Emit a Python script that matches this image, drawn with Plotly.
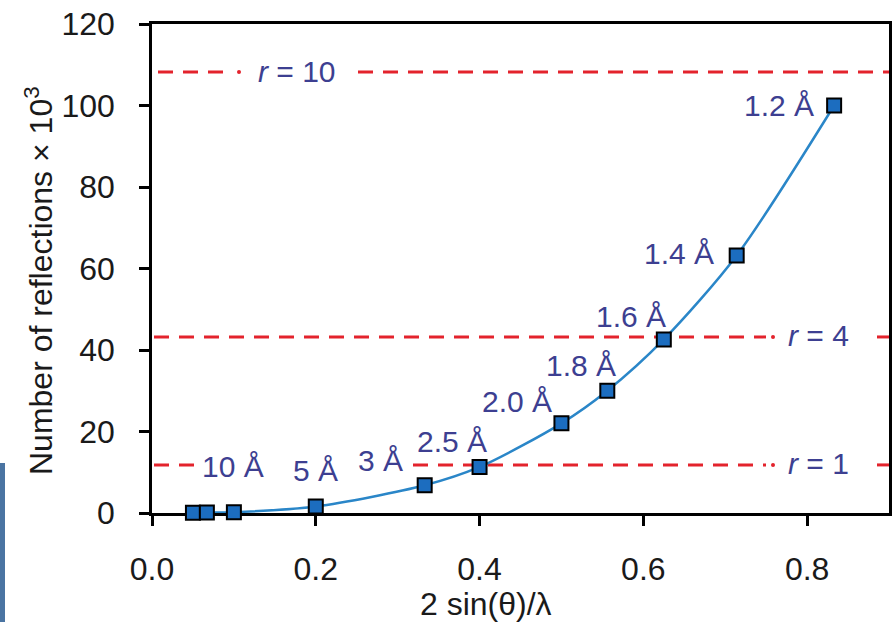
import plotly.graph_objects as go

# ---- data ----
x_vals = [0.05, 0.067, 0.1, 0.2, 0.333, 0.4, 0.5, 0.556, 0.625, 0.714, 0.833]
y_vals = [0.05, 0.1, 0.2, 1.6, 6.8, 11.3, 22.0, 30.0, 42.6, 63.2, 100.0]
res_labels = ["", "", "10 Å", "5 Å", "3 Å", "2.5 Å", "2.0 Å", "1.8 Å", "1.6 Å", "1.4 Å", "1.2 Å"]
r_names = ["1", "4", "10"]
r_levels = [11.8, 43.2, 108.2]
x_ticks = [0.0, 0.2, 0.4, 0.6, 0.8]
x_ticktext = ["0.0", "0.2", "0.4", "0.6", "0.8"]
y_ticks = [0, 20, 40, 60, 80, 100, 120]
x_title = "2 sin(θ)/λ"
y_title = "Number of reflections × 10<sup>3</sup>"

# ---- styling / layout constants ----
W, H = 895, 622
ML, MR, MT, MB = 152, 6, 24, 109
XMAX, YMAX = 0.9, 120
PW = W - ML - MR
PH = H - MT - MB
FONT = "Liberation Sans, Arial, sans-serif"
LABEL_COLOR = "#3d3f91"
TEXT_COLOR = "#1a1a1a"
RED = "#e3232c"

def px2x(px):
    return (px - ML) / PW * XMAX

def px2paper_x(px):
    return (px - ML) / PW

def px2paper_y(py):
    return (MT + PH - py) / PH

# label offsets in pixels (xshift, yshift) for each point label
label_shift = [(0, 0), (0, 0), (-1, 46), (0, 36), (-44, 25), (-28, 25),
               (-44, 22), (-26, 25), (-33, 23), (-58, 2), (-55, 0)]

# dashed-line segments per r level, in pixels: (start, end) and dot position
r_segments = {
    "1": [(154, 195), (413, 766), (877, 889)],
    "4": [(154, 766), (877, 889)],
    "10": [(158, 232), (358, 889)],
}
r_dots = {"1": 773, "4": 773, "10": 239}
r_label_px = {"1": 818, "4": 818, "10": 297}

fig = go.Figure()

shapes = []
dot_x, dot_y = [], []
for name, lvl in zip(r_names, r_levels):
    for a, b in r_segments[name]:
        shapes.append(dict(type="line", xref="x", yref="y",
                           x0=px2x(a), x1=px2x(b), y0=lvl, y1=lvl,
                           line=dict(color=RED, width=3, dash="15px,10px"),
                           layer="below"))
    dot_x.append(px2x(r_dots[name]))
    dot_y.append(lvl)

fig.add_trace(go.Scatter(x=dot_x, y=dot_y, mode="markers",
                         marker=dict(color=RED, size=4, symbol="circle"),
                         hoverinfo="skip", showlegend=False))

fig.add_trace(go.Scatter(
    x=x_vals, y=y_vals, mode="lines+markers",
    line=dict(color="#2a86c8", width=2.5, shape="spline", smoothing=0.8),
    marker=dict(symbol="square", size=14, color="#1c6dbf",
                line=dict(color="black", width=2)),
    cliponaxis=False, showlegend=False))

annotations = []
for x, y, lab, (dx, dy) in zip(x_vals, y_vals, res_labels, label_shift):
    if not lab:
        continue
    annotations.append(dict(x=x, y=y, xref="x", yref="y", text=lab,
                            showarrow=False, xshift=dx, yshift=dy,
                            font=dict(family=FONT, size=30, color=LABEL_COLOR)))
for name, lvl in zip(r_names, r_levels):
    annotations.append(dict(x=px2x(r_label_px[name]), y=lvl, xref="x", yref="y",
                            text="<i>r</i> = " + name, showarrow=False, yshift=1,
                            font=dict(family=FONT, size=30, color=LABEL_COLOR)))

# axis titles
annotations.append(dict(x=px2paper_x(486), y=px2paper_y(604), xref="paper", yref="paper",
                        text=x_title, showarrow=False, xanchor="center", yanchor="middle",
                        font=dict(family=FONT, size=32, color=TEXT_COLOR)))
annotations.append(dict(x=px2paper_x(39), y=px2paper_y(281), xref="paper", yref="paper",
                        text=y_title, showarrow=False, textangle=-90,
                        xanchor="center", yanchor="middle",
                        font=dict(family=FONT, size=32, color=TEXT_COLOR)))

# blue strip at the left edge of the picture
shapes.append(dict(type="rect", xref="paper", yref="paper",
                   x0=px2paper_x(0), x1=px2paper_x(5),
                   y0=px2paper_y(H), y1=px2paper_y(463),
                   fillcolor="#4a74a2", line=dict(width=0), layer="above"))

axis_common = dict(showline=True, linecolor="black", linewidth=2.5, mirror=True,
                   ticks="outside", ticklen=10, tickwidth=2.5, tickcolor="black",
                   showgrid=False, zeroline=False, layer="below traces",
                   tickfont=dict(family=FONT, size=32, color=TEXT_COLOR))

fig.update_layout(
    width=W, height=H,
    margin=dict(l=ML, r=MR, t=MT, b=MB),
    plot_bgcolor="white", paper_bgcolor="white",
    shapes=shapes, annotations=annotations,
    xaxis=dict(range=[0, XMAX], tickvals=x_ticks, ticktext=x_ticktext,
               ticklabelstandoff=16, automargin=False, **axis_common),
    yaxis=dict(range=[0, YMAX], tickvals=y_ticks, ticklabelstandoff=18,
               automargin=False, **axis_common),
)

fig.write_html("out.html")
